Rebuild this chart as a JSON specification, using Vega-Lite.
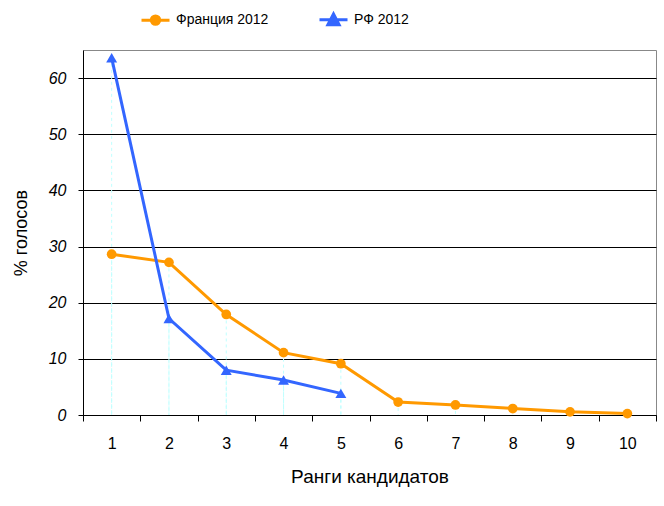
{
  "$schema": "https://vega.github.io/schema/vega-lite/v6.json",
  "width": 573,
  "height": 365,
  "autosize": {"type": "none"},
  "padding": {"left": 83, "top": 50, "right": 8, "bottom": 91},
  "background": "white",
  "config": {
    "font": "Liberation Sans",
    "view": {"stroke": "#888888", "strokeWidth": 1},
    "axis": {"labelFont": "Liberation Sans", "titleFont": "Liberation Sans", "labelColor": "black", "titleColor": "black", "titleFontWeight": "normal", "domainColor": "black", "tickColor": "black"}
  },
  "data": {
    "values": [
      {"rank": 1, "series": "Франция 2012", "value": 28.63},
      {"rank": 2, "series": "Франция 2012", "value": 27.18},
      {"rank": 3, "series": "Франция 2012", "value": 17.9},
      {"rank": 4, "series": "Франция 2012", "value": 11.1},
      {"rank": 5, "series": "Франция 2012", "value": 9.13},
      {"rank": 6, "series": "Франция 2012", "value": 2.31},
      {"rank": 7, "series": "Франция 2012", "value": 1.79},
      {"rank": 8, "series": "Франция 2012", "value": 1.15},
      {"rank": 9, "series": "Франция 2012", "value": 0.56},
      {"rank": 10, "series": "Франция 2012", "value": 0.25},
      {"rank": 1, "series": "РФ 2012", "value": 63.6},
      {"rank": 2, "series": "РФ 2012", "value": 17.18},
      {"rank": 3, "series": "РФ 2012", "value": 7.98},
      {"rank": 4, "series": "РФ 2012", "value": 6.22},
      {"rank": 5, "series": "РФ 2012", "value": 3.85}
    ]
  },
  "encoding": {
    "x": {
      "field": "rank", "type": "quantitative",
      "scale": {"domain": [0.5, 10.5], "nice": false, "zero": false},
      "axis": {
        "title": "Ранги кандидатов",
        "titleFontSize": 19,
        "titlePadding": 16,
        "values": [0.5, 1, 1.5, 2, 2.5, 3, 3.5, 4, 4.5, 5, 5.5, 6, 6.5, 7, 7.5, 8, 8.5, 9, 9.5, 10, 10.5],
        "labelExpr": "datum.value % 1 == 0 ? format(datum.value, 'd') : ''",
        "labelFontSize": 16,
        "labelPadding": 14,
        "tickSize": 6,
        "tickOpacity": {"condition": {"test": "datum.value % 1 == 0", "value": 0}, "value": 1},
        "grid": false,
        "labelFlush": false,
        "labelOverlap": false
      }
    },
    "y": {
      "field": "value", "type": "quantitative",
      "scale": {"domain": [0, 65], "nice": false},
      "axis": {
        "title": "% голосов",
        "titleFontSize": 18,
        "titlePadding": 18,
        "values": [0, 10, 20, 30, 40, 50, 60],
        "labelFontSize": 16,
        "labelFontStyle": "italic",
        "labelPadding": 12,
        "tickSize": 5,
        "grid": true,
        "gridColor": "black",
        "gridOpacity": 1,
        "gridWidth": 1
      }
    }
  },
  "layer": [
    {
      "mark": {"type": "rule", "color": "#BFFFFF", "strokeDash": [3, 3], "strokeWidth": 1},
      "encoding": {"y2": {"datum": 0}}
    },
    {
      "mark": {"type": "line", "strokeWidth": 3},
      "encoding": {
        "color": {
          "field": "series", "type": "nominal",
          "scale": {"domain": ["Франция 2012", "РФ 2012"], "range": ["#FF9900", "#3366FF"]},
          "legend": {
            "title": null,
            "orient": "none",
            "legendX": 57,
            "legendY": -46,
            "direction": "horizontal",
            "padding": 0,
            "labelFontSize": 14,
            "labelFont": "Liberation Sans",
            "labelColor": "black",
            "labelOffset": 5,
            "columnPadding": 44,
            "symbolSize": 784,
            "symbolStrokeWidth": 3,
            "encode": {
              "symbols": {
                "update": {
                  "shape": {"signal": "datum.value == 'РФ 2012' ? 'M-1,0L1,0M-0.4,0.34L0,-0.42L0.4,0.34Z' : 'M-1,0L1,0M-0.3,0A0.3,0.3,0,1,1,0.3,0A0.3,0.3,0,1,1,-0.3,0Z'"},
                  "fill": {"signal": "datum.value == 'РФ 2012' ? '#3366FF' : '#FF9900'"},
                  "stroke": {"signal": "datum.value == 'РФ 2012' ? '#3366FF' : '#FF9900'"},
                  "strokeWidth": {"value": 3},
                  "opacity": {"value": 1}
                }
              }
            }
          }
        }
      }
    },
    {
      "transform": [{"filter": "datum.series == 'Франция 2012'"}],
      "mark": {"type": "point", "filled": true, "opacity": 1, "size": 95, "shape": "circle"},
      "encoding": {"color": {"field": "series", "type": "nominal"}}
    },
    {
      "transform": [{"filter": "datum.series == 'РФ 2012'"}],
      "mark": {"type": "point", "filled": true, "opacity": 1, "size": 120, "shape": "triangle-up"},
      "encoding": {"color": {"field": "series", "type": "nominal"}}
    }
  ]
}
